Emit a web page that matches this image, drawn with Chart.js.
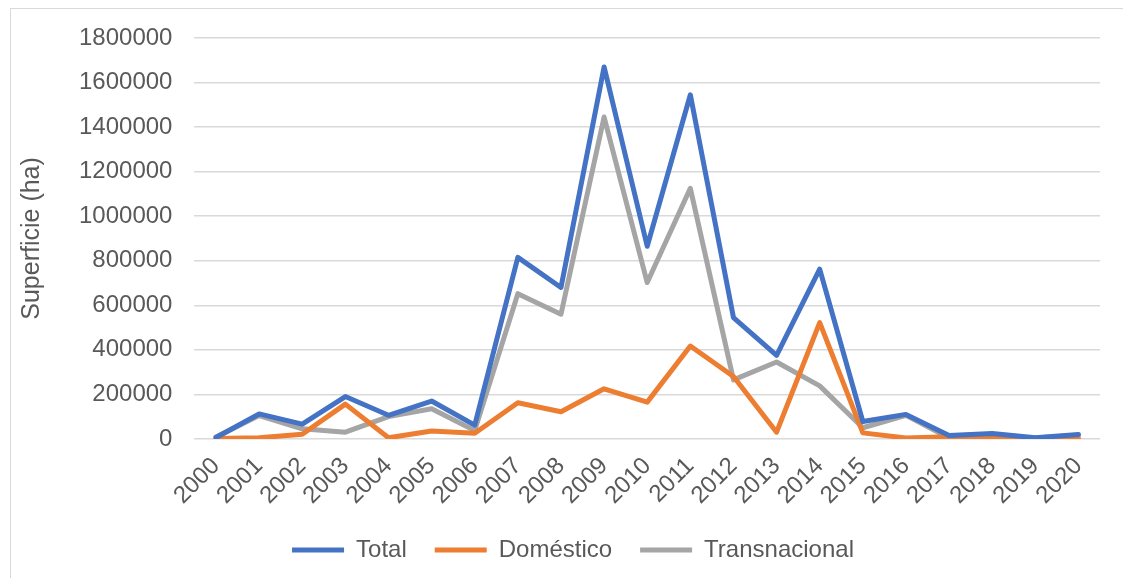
<!DOCTYPE html>
<html>
<head>
<meta charset="utf-8">
<script src="https://cdn.jsdelivr.net/npm/chart.js@4/dist/chart.umd.min.js"></script>
<style>
  body { margin: 0; background: #fff; }
  #frame { position: absolute; left: 10px; top: 8px; width: 1200px; height: 700px; border: 1px solid #D9D9D9; }
  #chart { position: absolute; left: 0; top: 0; }
</style>
</head>
<body>
<div id="frame"></div>
<canvas id="chart" width="1123" height="578"></canvas>
<script>
var years = ['2000', '2001', '2002', '2003', '2004', '2005', '2006', '2007', '2008', '2009', '2010',
    '2011', '2012', '2013', '2014', '2015', '2016', '2017', '2018', '2019', '2020'];

var total = [6000, 112000, 66000, 190000, 106000, 170000, 62000, 815000, 680000, 1670000, 865000,
    1545000, 545000, 375000, 762000, 78000, 110000, 15000, 24000, 5000, 20000];
var domestico = [2000, 5000, 21000, 156000, 5000, 35000, 25000, 162000, 122000, 225000, 165000,
    417000, 280000, 30000, 522000, 27000, 4000, 10000, 10000, 2000, 2000];
var transnacional = [8000, 105000, 45000, 30000, 100000, 135000, 38000, 652000, 560000, 1445000, 702000,
    1125000, 265000, 345000, 238000, 50000, 106000, 4000, 10000, 4000, 16000];

var yTicks = [0, 200000, 400000, 600000, 800000, 1000000, 1200000, 1400000, 1600000, 1800000];

var textColor = '#595959';
var font = 'Arial, "Liberation Sans", sans-serif';

function serie(label, data, color) {
    return {
        label: label,
        data: data,
        borderColor: color,
        backgroundColor: color,
        borderWidth: 5,
        pointRadius: 0,
        borderCapStyle: 'round',
        borderJoinStyle: 'round',
        tension: 0
    };
}

// nudge the legend to the right, it is centred on the whole frame in the original
var legendShift = {
    id: 'legendShift',
    afterLayout: function(chart) {
        chart.legend.left += 18;
        chart.legend.right += 18;
    }
};

new Chart(document.getElementById('chart'), {
    type: 'line',
    data: {
        labels: years,
        datasets: [
            serie('Total', total, '#4472C4'),
            serie('Doméstico', domestico, '#ED7D31'),
            serie('Transnacional', transnacional, '#A5A5A5')
        ]
    },
    plugins: [legendShift],
    options: {
        responsive: false,
        animation: false,
        layout: { padding: { left: 10, right: 23, top: 38, bottom: 6 } },
        plugins: {
            tooltip: { enabled: false },
            legend: {
                position: 'bottom',
                labels: {
                    usePointStyle: true,
                    pointStyle: 'line',
                    pointStyleWidth: 52,
                    boxWidth: 52,
                    boxHeight: 5,
                    padding: 28,
                    color: textColor,
                    font: { family: font, size: 24 }
                }
            }
        },
        scales: {
            x: {
                offset: true,
                grid: { display: false },
                border: { display: false },
                afterFit: function(axis) { axis.height -= 5; },
                ticks: {
                    color: textColor,
                    autoSkip: false,
                    minRotation: 45,
                    maxRotation: 45,
                    padding: 5,
                    font: { family: font, size: 24 }
                }
            },
            y: {
                min: 0,
                max: 1800000,
                afterBuildTicks: function(axis) {
                    axis.ticks = yTicks.map(function(v) { return { value: v }; });
                },
                grid: { color: '#D9D9D9', lineWidth: 1.5, drawTicks: false },
                border: { display: false },
                title: {
                    display: true,
                    text: 'Superficie (ha)',
                    color: textColor,
                    font: { family: font, size: 25 },
                    padding: { top: 7, bottom: 10 }
                },
                ticks: {
                    color: textColor,
                    padding: 22,
                    font: { family: font, size: 24 },
                    callback: function(v) { return String(v); }
                }
            }
        }
    }
});
</script>
</body>
</html>
